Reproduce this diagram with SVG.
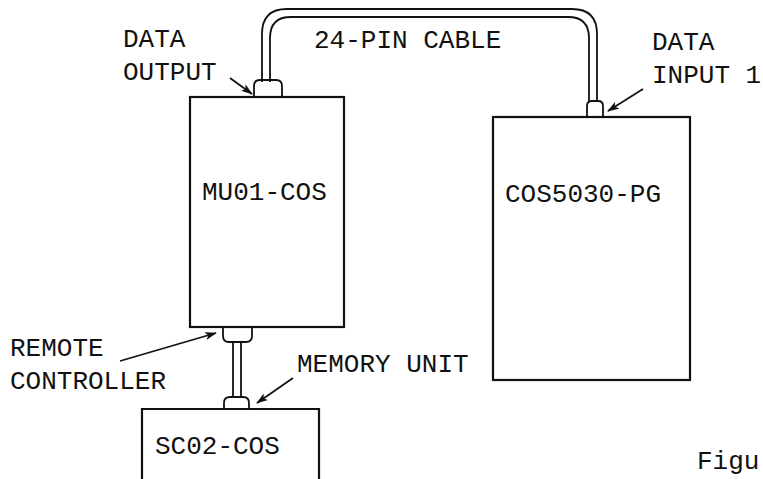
<svg xmlns="http://www.w3.org/2000/svg" width="763" height="479" viewBox="0 0 763 479">
<defs>
<style>
.t{font-family:"Liberation Mono","DejaVu Sans Mono",monospace;font-size:26px;fill:#111}
.box{fill:none;stroke:#111;stroke-width:2.2}
.ln{fill:none;stroke:#111;stroke-width:1.8}
.arr{fill:none;stroke:#111;stroke-width:1.8;marker-end:url(#ah)}
</style>
<marker id="ah" viewBox="0 0 12 8" refX="11" refY="4" markerWidth="12" markerHeight="8" markerUnits="userSpaceOnUse" orient="auto">
<path d="M0,0 L12,4 L0,8 L3,4 Z" fill="#111"/>
</marker>
</defs>
<rect width="763" height="479" fill="#fff"/>

<g id="connectors">
<!-- 24-pin cable -->
<path class="ln" d="M262,82 V34 Q262,9 287,9 H572 Q597,9 597,34 V102"/>
<path class="ln" d="M270,82 V38 Q270,17 291,17 H568 Q589,17 589,38 V102"/>
<!-- remote cable -->
<path class="ln" d="M233,342 V398"/>
<path class="ln" d="M241,342 V398"/>
</g>

<g id="mu01">
<rect class="box" x="190" y="97" width="154" height="230"/>
<path class="ln" d="M254,97 V86 Q254,80 260,80 H276 Q282,80 282,86 V97"/>
<text class="t" x="202" y="200">MU01-COS</text>
</g>

<g id="cos5030">
<rect class="box" x="493" y="117" width="197" height="263"/>
<path class="ln" d="M587,117 V106 Q587,101 592,101 H598 Q603,101 603,106 V117"/>
<text class="t" x="505" y="202">COS5030-PG</text>
</g>

<g id="sc02">
<path class="box" d="M142,481 V409 H319 V481"/>
<path class="ln" d="M224,409 V403 Q224,397 230,397 H243 Q249,397 249,403 V409"/>
<text class="t" x="155" y="454">SC02-COS</text>
</g>

<g id="remote-conn">
<path class="ln" d="M223,327 V336 Q223,342 229,342 H246 Q252,342 252,336 V327"/>
</g>

<g id="labels">
<text class="t" x="123" y="47">DATA</text>
<text class="t" x="123" y="80">OUTPUT</text>
<path class="arr" d="M230,78 L252,94"/>
<text class="t" x="314" y="48">24-PIN CABLE</text>
<text class="t" x="652" y="50">DATA</text>
<text class="t" x="652" y="83">INPUT 1</text>
<path class="arr" d="M643,89 L608,111"/>
<text class="t" x="10" y="356">REMOTE</text>
<text class="t" x="10" y="389">CONTROLLER</text>
<path class="arr" d="M120,361 L216,333"/>
<text class="t" x="297" y="372">MEMORY UNIT</text>
<path class="arr" d="M293,378 L257,403"/>
<text class="t" x="697" y="469">Figu</text>
</g>
</svg>
